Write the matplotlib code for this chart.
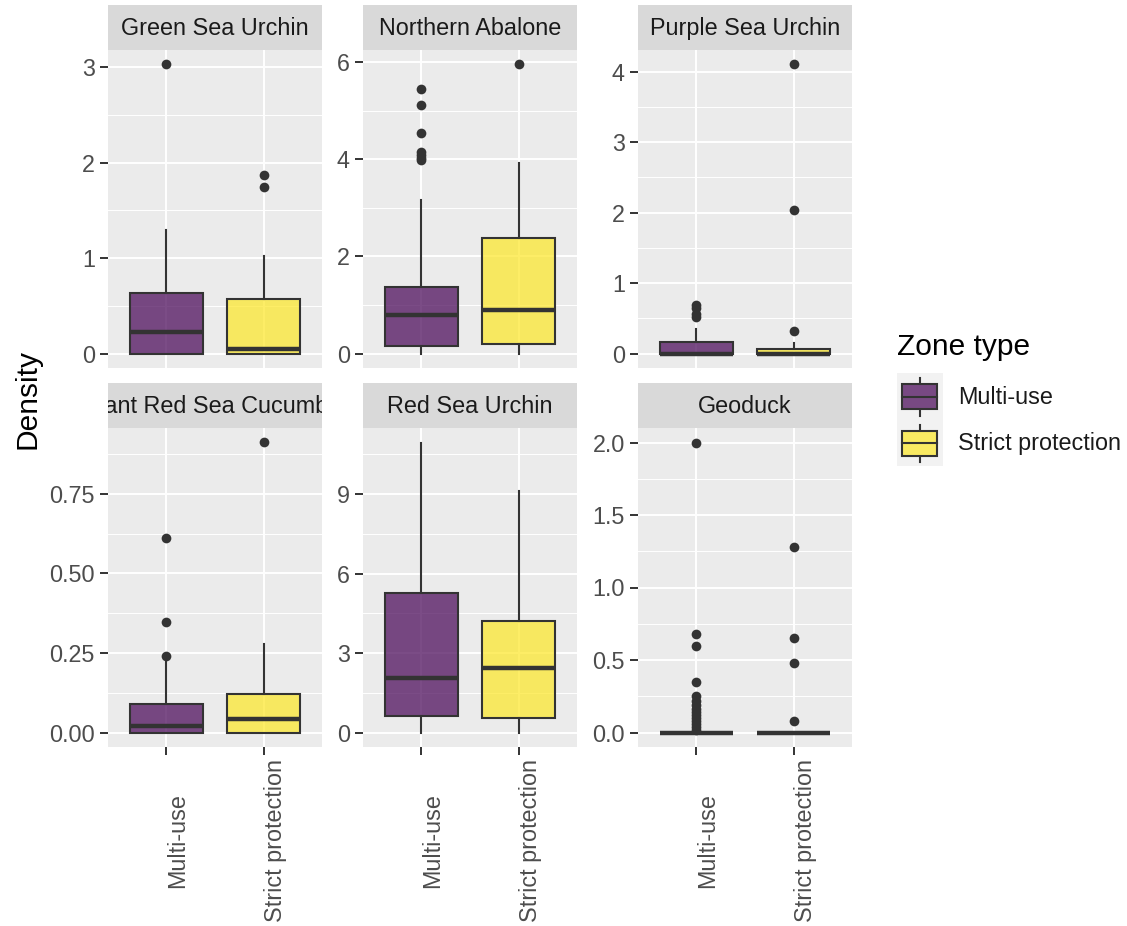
import matplotlib
matplotlib.use("Agg")
import matplotlib.pyplot as plt
from matplotlib.ticker import FixedLocator, AutoMinorLocator, NullLocator
from matplotlib.patches import Rectangle
from matplotlib.lines import Line2D
from matplotlib.transforms import blended_transform_factory

plt.rcParams['font.family'] = ['Liberation Sans', 'DejaVu Sans']

# ---- data -------------------------------------------------------------
species = ["Green Sea Urchin", "Northern Abalone", "Purple Sea Urchin",
           "Giant Red Sea Cucumber", "Red Sea Urchin", "Geoduck"]
zones = ["Multi-use", "Strict protection"]

# box summaries per species: [Multi-use, Strict protection]
q1 = [[0.0, 0.0], [0.15, 0.19], [0.0, 0.0], [0.0, 0.0], [0.61, 0.53], [0.0, 0.0]]
medians = [[0.23, 0.05], [0.79, 0.90], [0.0, 0.0], [0.02, 0.042], [2.05, 2.45], [0.0, 0.0]]
q3 = [[0.63, 0.575], [1.37, 2.38], [0.165, 0.07], [0.091, 0.12], [5.25, 4.20], [0.0, 0.0]]
whisker_low = [[0.0, 0.0], [0.0, 0.0], [0.0, 0.0], [0.0, 0.0], [0.0, 0.0], [0.0, 0.0]]
whisker_high = [[1.30, 1.02], [3.15, 3.93], [0.355, 0.156], [0.225, 0.277], [10.95, 9.10], [0.0, 0.0]]
outliers = [
    [[3.03], [1.87, 1.75]],
    [[5.45, 5.12, 4.54, 4.15, 4.09, 4.03, 3.99], [5.95]],
    [[0.69, 0.64, 0.56, 0.52], [4.10, 2.04, 0.32]],
    [[0.24, 0.347, 0.611], [0.911]],
    [[], []],
    [[2.0, 0.68, 0.60, 0.345, 0.25, 0.22, 0.19, 0.16, 0.14, 0.12, 0.10,
      0.08, 0.06, 0.04, 0.02], [1.28, 0.65, 0.48, 0.08]],
]

y_ticks = [[0, 1, 2, 3], [0, 2, 4, 6], [0, 1, 2, 3, 4], [0, 0.25, 0.5, 0.75],
           [0, 3, 6, 9], [0, 0.5, 1.0, 1.5, 2.0]]
y_tick_labels = [["0", "1", "2", "3"], ["0", "2", "4", "6"], ["0", "1", "2", "3", "4"],
                 ["0.00", "0.25", "0.50", "0.75"], ["0", "3", "6", "9"],
                 ["0.0", "0.5", "1.0", "1.5", "2.0"]]

legend_title = "Zone type"
y_title = "Density"

# ---- style ------------------------------------------------------------
W, H = 1127, 926
fills = ["#440154", "#FDE725"]
FILL_ALPHA = 0.7
LINE = "#333333"
PANEL_BG = "#EBEBEB"
STRIP_BG = "#D9D9D9"
TICK_TXT = "#4D4D4D"
TXT = "#1A1A1A"
FS = 16.8
FS_TITLE = 21.5

col_left = [108, 363, 638]
panel_w = 214
rows = [(5, 50, 368), (383, 428, 747)]   # strip top, panel top, panel bottom

fig = plt.figure(figsize=(W / 100, H / 100), dpi=100)
fig.patch.set_facecolor("white")


def fig_rect(x0, y0, x1, y1):
    return [x0 / W, 1 - y1 / H, (x1 - x0) / W, (y1 - y0) / H]


for i, name in enumerate(species):
    r, c = divmod(i, 3)
    s_top, p_top, p_bot = rows[r]
    x0 = col_left[c]
    x1 = x0 + panel_w

    # strip
    sax = fig.add_axes(fig_rect(x0, s_top, x1, p_top))
    sax.set_facecolor(STRIP_BG)
    sax.set_xticks([])
    sax.set_yticks([])
    for sp in sax.spines.values():
        sp.set_visible(False)
    sax.text(0.5, 0.47, name, ha="center", va="center", fontsize=FS,
             color=TXT, transform=sax.transAxes, clip_on=True)

    # panel
    ax = fig.add_axes(fig_rect(x0, p_top, x1, p_bot))
    ax.set_facecolor(PANEL_BG)
    for sp in ax.spines.values():
        sp.set_visible(False)

    stats = []
    for z in range(2):
        stats.append(dict(med=medians[i][z], q1=q1[i][z], q3=q3[i][z],
                          whislo=whisker_low[i][z], whishi=whisker_high[i][z],
                          fliers=outliers[i][z], label=zones[z]))
    bp = ax.bxp(stats, positions=[1, 2], widths=0.75, patch_artist=True,
                showcaps=False, showfliers=True,
                boxprops=dict(edgecolor=LINE, linewidth=1.5),
                whiskerprops=dict(color=LINE, linewidth=1.5),
                medianprops=dict(color=LINE, linewidth=3.2, solid_capstyle="butt"),
                flierprops=dict(marker="o", markerfacecolor=LINE,
                                markeredgecolor=LINE, markersize=7, markeredgewidth=0))
    for patch, col in zip(bp["boxes"], fills):
        patch.set_facecolor(matplotlib.colors.to_rgba(col, FILL_ALPHA))
        patch.set_edgecolor(LINE)
        patch.set_zorder(2)

    # limits with 5% expansion like ggplot
    vals = []
    for z in range(2):
        vals += [whisker_low[i][z], whisker_high[i][z], q1[i][z], q3[i][z]] + list(outliers[i][z])
    lo, hi = min(vals), max(vals)
    pad = (hi - lo) * 0.05
    ax.set_ylim(lo - pad, hi + pad)
    ax.set_xlim(0.4, 2.6)

    ax.yaxis.set_major_locator(FixedLocator(y_ticks[i]))
    ax.set_yticklabels(y_tick_labels[i])
    ax.yaxis.set_minor_locator(AutoMinorLocator(2))
    ax.xaxis.set_major_locator(FixedLocator([1, 2]))
    ax.xaxis.set_minor_locator(NullLocator())

    ax.set_axisbelow(True)
    ax.grid(which="major", color="white", linewidth=1.4)
    ax.grid(which="minor", axis="y", color="white", linewidth=0.7)

    ax.tick_params(axis="y", which="major", length=5.5, width=1.4, color=LINE,
                   labelsize=FS, labelcolor=TICK_TXT, pad=4)
    ax.tick_params(axis="y", which="minor", length=0)
    ax.tick_params(axis="x", which="major", length=5.5, width=1.4, color=LINE,
                   labelbottom=False, bottom=(r == 1))

    if r == 1:
        tr = blended_transform_factory(ax.transData, fig.transFigure)
        for xpos, lab in zip([1, 2], zones):
            ax.text(xpos, 1 - 841 / H, lab, transform=tr, rotation=90,
                    ha="left", va="center", fontsize=FS, color=TICK_TXT)

# y axis title
fig.text(27 / W, 1 - 399 / H, y_title, rotation=90, ha="center", va="center",
         fontsize=FS_TITLE, color="black")

# ---- legend -----------------------------------------------------------
lg = fig.add_axes([0, 0, 1, 1], facecolor="none")
lg.set_xlim(0, W)
lg.set_ylim(H, 0)
lg.axis("off")
lg.text(897, 347, legend_title, ha="left", va="center", fontsize=FS_TITLE, color="black")
key_top = 373
key_h = 46.5
for k, (lab, col) in enumerate(zip(zones, fills)):
    ky = key_top + k * key_h
    lg.add_patch(Rectangle((897, ky), 46, key_h, facecolor="#F2F2F2", edgecolor="none"))
    cx = 919.5
    lg.add_line(Line2D([cx, cx], [ky + 5, ky + key_h - 4], color=LINE, lw=1.5))
    # key box: background first so the whisker does not show through the fill
    lg.add_patch(Rectangle((902, ky + 11), 35, 25, facecolor="#F2F2F2",
                           edgecolor="none", zorder=2.5))
    lg.add_patch(Rectangle((902, ky + 11), 35, 25,
                           facecolor=matplotlib.colors.to_rgba(col, FILL_ALPHA),
                           edgecolor=LINE, lw=1.5, zorder=3))
    lg.add_line(Line2D([902, 937], [ky + 23.5, ky + 23.5], color=LINE, lw=1.5, zorder=4))
    lg.text(958, ky + key_h / 2 + 1, lab, ha="left", va="center", fontsize=FS, color=TXT)

fig.savefig("out.png", dpi=100, facecolor="white")
